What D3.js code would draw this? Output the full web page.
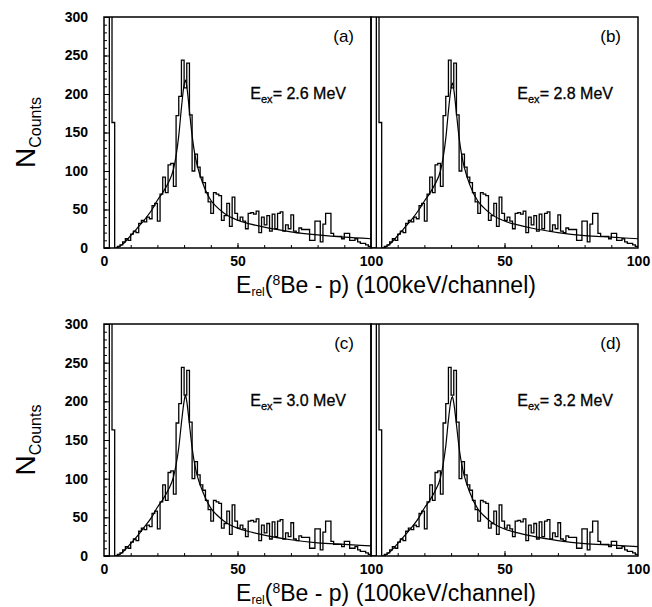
<!DOCTYPE html>
<html>
<head>
<meta charset="utf-8">
<script src="https://cdn.jsdelivr.net/npm/d3@7"></script>
<style>
  body { margin: 0; background: #fff; }
  svg { display: block; }
  .tick text { font-family: "Liberation Sans", Arial, sans-serif; font-weight: bold; font-size: 14px; fill: #000; }
  .domain { display: none; }
  .tick line { stroke: #000; stroke-width: 1; }
</style>
</head>
<body>
<svg id="chart" width="652" height="607"></svg>
<script>
// histogram counts per 100 keV channel (channel 0..99), same data in every panel
let counts = [
  0, 0, 330, 163, 0, 2, 4, 8, 12, 10,
  18, 22, 20, 32, 36, 34, 40, 38, 55, 58,
  35, 70, 92, 72, 108, 110, 80, 172, 197, 244,
  208, 240, 173, 100, 122, 105, 92, 85, 72, 60,
  45, 72, 70, 68, 36, 42, 58, 28, 66, 45,
  36, 40, 35, 25, 45, 46, 44, 48, 20, 40,
  30, 42, 22, 44, 25, 45, 47, 22, 30, 25,
  43, 22, 20, 26, 24, 24, 24, 10, 10, 35,
  35, 8, 31, 45, 45, 19, 15, 15, 15, 12,
  19, 19, 10, 10, 12, 8, 6, 6, 4, 2
];

// fitted curves, read at these channels
let fitChannels = [5, 7, 10, 13, 15, 18, 20, 22, 24, 26, 27, 28, 29, 30, 30.5, 31, 32, 33, 34, 35, 37, 40, 42, 45, 50, 55, 60, 70, 80, 90, 100];
let fitA = [0, 5, 16, 28, 36, 50, 62, 72, 84, 102, 120, 146, 182, 212, 218, 210, 178, 146, 122, 106, 84, 62, 54, 45, 36, 31, 27, 21, 17, 14, 12];
let fitB = [0, 5, 16, 28, 36, 50, 61, 71, 83, 100, 117, 142, 178, 208, 214, 206, 175, 143, 120, 104, 82, 61, 53, 44, 35, 30, 26, 20, 16, 14, 12];
let fitC = [0, 5, 16, 28, 37, 51, 63, 73, 85, 102, 118, 140, 172, 200, 208, 200, 170, 140, 118, 103, 83, 62, 54, 45, 36, 31, 27, 21, 17, 15, 13];
let fitD = [0, 5, 16, 28, 36, 50, 62, 72, 84, 101, 118, 142, 176, 202, 206, 198, 170, 140, 118, 103, 82, 61, 53, 44, 35, 30, 26, 20, 16, 14, 12];

let panelLetters = ["(a)", "(b)", "(c)", "(d)"];
let energies = ["2.6", "2.8", "3.0", "3.2"];
let fits = [fitA, fitB, fitC, fitD];

let yTicksMajor = [0, 50, 100, 150, 200, 250, 300];
let xLabelsLeft = [0, 50, 100];
let xLabelsRight = [50, 100];

let font = "'Liberation Sans', Arial, sans-serif";
let svg = d3.select("#chart");

let colX = [[104, 371], [371, 638]];
let rowY = [[17, 248], [324, 556]];

for (let p = 0; p < 4; p++) {
    let row = Math.floor(p / 2), col = p % 2;
    let x = d3.scaleLinear().domain([0, 100]).range(colX[col]);
    let y = d3.scaleLinear().domain([0, 300]).range([rowY[row][1], rowY[row][0]]);
    let g = svg.append("g");

    // clip so the spike at low channel is cut by the frame
    let clipId = "clip" + p;
    svg.append("clipPath").attr("id", clipId)
        .append("rect")
        .attr("x", x(0)).attr("y", y(300))
        .attr("width", x(100) - x(0)).attr("height", y(0) - y(300));

    // histogram as steps
    let histPts = counts.map(function (d, i) { return [i, d]; });
    histPts.push([100, counts[counts.length - 1]]);
    let step = d3.line()
        .x(function (d) { return x(d[0]); })
        .y(function (d) { return y(d[1]); })
        .curve(d3.curveStepAfter);
    g.append("path")
        .attr("clip-path", "url(#" + clipId + ")")
        .attr("d", step(histPts))
        .attr("fill", "none")
        .attr("stroke", "#000")
        .attr("stroke-width", 1.3);

    // fit curve
    let fitPts = fitChannels.map(function (c, i) { return [c, fits[p][i]]; });
    let smooth = d3.line()
        .x(function (d) { return x(d[0]); })
        .y(function (d) { return y(d[1]); })
        .curve(d3.curveMonotoneX);
    g.append("path")
        .attr("clip-path", "url(#" + clipId + ")")
        .attr("d", smooth(fitPts))
        .attr("fill", "none")
        .attr("stroke", "#000")
        .attr("stroke-width", 1.2);

    // x ticks pointing inward
    g.append("g")
        .attr("transform", "translate(0," + y(0) + ")")
        .call(d3.axisBottom(x).tickValues(d3.range(10, 100, 10)).tickSize(-3).tickFormat(""));
    g.append("g")
        .attr("transform", "translate(0," + y(0) + ")")
        .call(d3.axisBottom(x).tickValues([50]).tickSize(-5).tickFormat(""));
    g.append("g")
        .attr("transform", "translate(0," + y(0) + ")")
        .call(d3.axisBottom(x).tickValues(col === 0 ? xLabelsLeft : xLabelsRight).tickSize(0).tickPadding(8).tickFormat(d3.format("d")));

    // y ticks only on the left panels
    if (col === 0) {
        g.append("g")
            .attr("transform", "translate(" + x(0) + ",0)")
            .call(d3.axisLeft(y).tickValues(d3.range(10, 300, 10)).tickSize(-3).tickFormat(""));
        g.append("g")
            .attr("transform", "translate(" + x(0) + ",0)")
            .call(d3.axisLeft(y).tickValues(yTicksMajor).tickSize(-6).tickFormat(""));
        g.append("g")
            .attr("transform", "translate(" + x(0) + ",0)")
            .call(d3.axisLeft(y).tickValues(yTicksMajor).tickSize(0).tickPadding(16).tickFormat(d3.format("d")));
    }

    // frame
    g.append("rect")
        .attr("x", x(0)).attr("y", y(300))
        .attr("width", x(100) - x(0)).attr("height", y(0) - y(300))
        .attr("fill", "none")
        .attr("stroke", "#000")
        .attr("stroke-width", 1.5);

    // panel letter
    g.append("text")
        .attr("x", x(100) - 17).attr("y", y(300) + 25)
        .attr("text-anchor", "end")
        .attr("font-family", font).attr("font-size", 17)
        .text(panelLetters[p]);

    // excitation energy
    let t = g.append("text")
        .attr("x", x(100) - 25).attr("y", y(300) + 82)
        .attr("text-anchor", "end")
        .attr("font-family", font).attr("font-size", 16)
        .attr("stroke", "#000").attr("stroke-width", 0.3);
    t.append("tspan").text("E");
    t.append("tspan").attr("font-size", 11).attr("dy", 4).text("ex");
    t.append("tspan").attr("dy", -4).text("= " + energies[p] + " MeV");
}

// axis titles
for (let row = 0; row < 2; row++) {
    let cy = (rowY[row][0] + rowY[row][1]) / 2;
    let yl = svg.append("text")
        .attr("transform", "translate(35," + cy + ") rotate(-90)")
        .attr("text-anchor", "middle")
        .attr("font-family", font).attr("font-size", 28);
    yl.append("tspan").text("N");
    yl.append("tspan").attr("font-size", 16).attr("dy", 6).text("Counts");

    let xl = svg.append("text")
        .attr("x", 386).attr("y", rowY[row][1] + 45)
        .attr("text-anchor", "middle")
        .attr("font-family", font).attr("font-size", 23);
    xl.append("tspan").text("E");
    xl.append("tspan").attr("font-size", 12).attr("dy", 3).text("rel");
    xl.append("tspan").attr("dy", -3).text("(");
    xl.append("tspan").attr("font-size", 14).attr("dy", -8).text("8");
    xl.append("tspan").attr("dy", 8).text("Be - p) (100keV/channel)");
}
</script>
</body>
</html>
